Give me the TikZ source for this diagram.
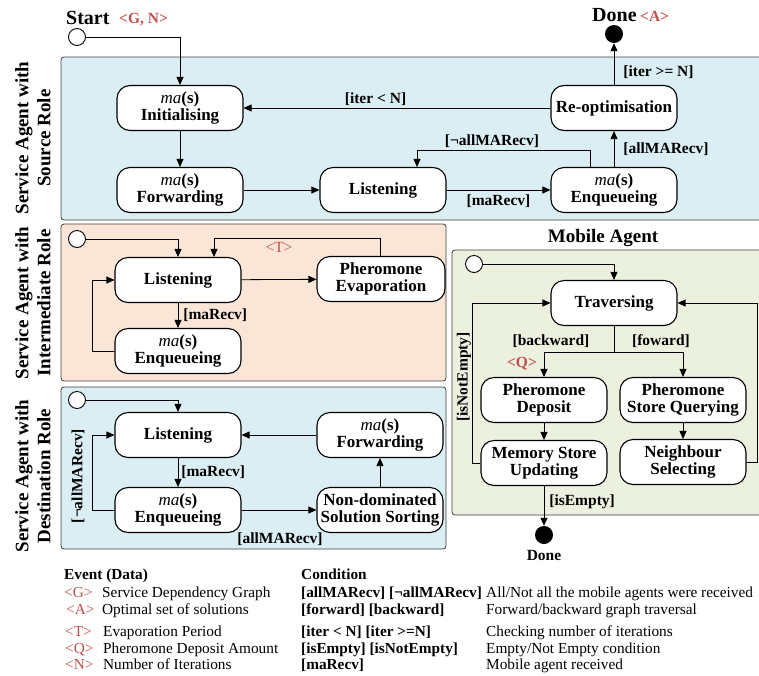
\documentclass[tikz,border=0pt]{standalone}
\usepackage{fontspec}
\setmainfont{Liberation Serif}
\usetikzlibrary{arrows.meta,calc}
\definecolor{evred}{HTML}{C0504D}
\definecolor{bluebg}{HTML}{DAEEF3}
\definecolor{peachbg}{HTML}{FBE5D6}
\definecolor{greenbg}{HTML}{EBF1DE}
\tikzset{
  state/.style={draw, line width=1.1pt, fill=white, rounded corners=13pt, minimum width=126pt,
    minimum height=45pt, align=center, inner sep=1.5pt, font=\fontsize{17}{17.5}\selectfont\bfseries},
  panel/.style={draw=black!75, line width=0.8pt, rounded corners=3pt},
  initst/.style={circle, draw, fill=white, minimum size=17pt, inner sep=0pt, line width=0.9pt},
  finalst/.style={circle, fill=black, minimum size=18pt, inner sep=0pt},
  arr/.style={-{Triangle[length=8pt,width=7pt]}, line width=0.8pt},
  lab/.style={inner sep=1pt, font=\fontsize{15.5}{16}\selectfont\bfseries},
  evtlab/.style={inner sep=1pt, text=evred, font=\fontsize{15.5}{16}\selectfont\bfseries},
  sidelab/.style={rotate=90, align=center, inner sep=0pt, font=\fontsize{19}{22}\selectfont\bfseries},
  leg/.style={anchor=base west, inner sep=0pt, font=\fontsize{15.3}{16}\selectfont},
  legb/.style={leg, font=\fontsize{15.3}{16}\selectfont\bfseries},
}
\newcommand{\mas}{{\mdseries\itshape ma}(s)}
\begin{document}
\begin{tikzpicture}[x=1pt,y=-1pt]
\useasboundingbox (0,0) rectangle (759,675);
% panels
\draw[panel, fill=bluebg] (61,57) rectangle (775,220);
\draw[panel, fill=peachbg] (61,224) rectangle (446,381);
\draw[panel, fill=bluebg] (61,387) rectangle (446,549);
\draw[panel, fill=greenbg] (452,250) rectangle (775,515);
% side labels
\node[sidelab] (s1) at (33,138) {Service Agent with\\Source Role};
\node[sidelab] (s2) at (33,303) {Service Agent with\\Intermediate Role};
\node[sidelab] (s3) at (33,476) {Service Agent with\\Destination Role};
% ---------- source role
\node[initst] (init1) at (77,37) {};
\node[anchor=base west, inner sep=0pt, font=\fontsize{20}{22}\selectfont\bfseries] (start) at (66,24) {Start};
\node[anchor=base west, inner sep=0pt, text=evred, font=\fontsize{15.5}{16}\selectfont\bfseries] (gn) at (119,23) {<G, N>};
\node[finalst] (done1) at (614,34) {};
\node[anchor=base west, inner sep=0pt, font=\fontsize{20}{22}\selectfont\bfseries] (donet) at (592,21) {Done};
\node[anchor=base west, inner sep=0pt, text=evred, font=\fontsize{15.5}{16}\selectfont\bfseries] (at) at (640,21) {<A>};
\node[state] (initl) at (180,108) {\mas\\Initialising};
\node[state] (fwd1) at (180,190) {\mas\\Forwarding};
\node[state] (lis1) at (383,190) {Listening};
\node[state] (enq1) at (614,190) {\mas\\Enqueueing};
\node[state] (reopt) at (614,108) {Re-optimisation};
\draw[arr] (init1) -| (initl);
\draw[arr] (initl) -- (fwd1);
\draw[arr] (fwd1) -- (lis1);
\draw[arr] (lis1) -- node[lab, below=3pt] {[maRecv]} (enq1);
\draw[arr] ([xshift=-24pt]enq1.north) -- ++(0,-17) -| ([xshift=34pt]lis1.north);
\node[lab] (nall1) at (492,141) {[¬allMARecv]};
\draw[arr] (enq1) -- node[lab, right=8pt] {[allMARecv]} (reopt);
\draw[arr] (reopt) -- node[lab, right=8pt, pos=0.3] {[iter >= N]} (done1);
\draw[arr] (reopt) -- node[lab, above=1pt, pos=0.57] {[iter < N]} (initl);
% ---------- intermediate role
\node[initst] (init2) at (77,239) {};
\node[state] (lis2) at (178,280) {Listening};
\node[state] (enq2) at (178,351) {\mas\\Enqueueing};
\node[state, minimum width=128pt] (evap) at (381,279) {Pheromone\\Evaporation};
\draw[arr] (init2) -| (lis2);
\draw[arr] (lis2) -- (evap);
\draw[arr] ([xshift=-1pt]evap.north) -- ++(0,-18) -| ([xshift=36pt]lis2.north);
\node[evtlab, font=\fontsize{15.5}{16}\selectfont] (tlab) at (279,247) {<T>};
\draw[arr] (lis2) -- node[lab, right=4pt] {[maRecv]} (enq2);
\draw[arr] (enq2.west) -- ++(-22,0) |- (lis2.west);
% ---------- destination role
\node[initst] (init3) at (77,400) {};
\node[state] (lis3) at (178,435) {Listening};
\node[state] (enq3) at (178,510) {\mas\\Enqueueing};
\node[state] (fwd3) at (380,435) {\mas\\Forwarding};
\node[state] (nds) at (380,510) {Non-dominated\\Solution Sorting};
\draw[arr] (init3) -| (lis3);
\draw[arr] (fwd3) -- (lis3);
\draw[arr] (lis3) -- node[lab, right=2pt] {[maRecv]} (enq3);
\draw[arr] (enq3) -- (nds);
\node[lab] (allm3) at (280,539) {[allMARecv]};
\draw[arr] (nds) -- (fwd3);
\draw[arr] (enq3.west) -- ++(-22,0) |- (lis3.west);
\node[lab, rotate=90] (nall3) at (78,476) {[¬allMARecv]};
% ---------- mobile agent
\node[font=\fontsize{19}{21}\selectfont\bfseries] (matitle) at (603,238) {Mobile Agent};
\node[initst] (init4) at (474,264) {};
\node[state] (trav) at (614,303) {Traversing};
\node[state] (pd) at (544,400) {Pheromone\\Deposit};
\node[state] (psq) at (683,400) {Pheromone\\Store Querying};
\node[state] (msu) at (544,463) {Memory Store\\Updating};
\node[state] (ns) at (683,462) {Neighbour\\Selecting};
\node[finalst] (done2) at (544,535) {};
\node[anchor=base, inner sep=0pt, font=\fontsize{15.5}{16}\selectfont\bfseries] (done2t) at (544,560) {Done};
\draw[arr] (init4) -| (trav);
\draw[line width=0.8pt] (trav.south) -- ++(0,26) coordinate (split);
\draw[arr] (split) -| (pd);
\draw[arr] (split) -| (psq);
\node[lab] (bw) at (551,341) {[backward]};
\node[lab] (fw) at (661,341) {[foward]};
\node[evtlab] (qlab) at (522,364) {<Q>};
\draw[arr] (pd) -- (msu);
\draw[arr] (psq) -- (ns);
\draw[arr] (msu.west) -- ++(-8,0) |- (trav.west);
\node[lab, rotate=90] (nempty) at (464,377) {[isNotEmpty]};
\draw[arr] (ns.east) -- ++(11,0) |- (trav.east);
\draw[arr] (msu) -- node[lab, right=4pt, pos=0.4] {[isEmpty]} (done2);
% ---------- legend
\node[legb] (lh1) at (64,579) {Event (Data)};
\node[legb] (lh2) at (301,579) {Condition};
\node[leg, text=evred] (lg1) at (64,597) {<G>};
\node[leg] (ld1) at (102,597) {Service Dependency Graph};
\node[leg, text=evred] (lg2) at (66,614) {<A>};
\node[leg] (ld2) at (102,614) {Optimal set of solutions};
\node[leg, text=evred] (lg3) at (65,636) {<T>};
\node[leg] (ld3) at (103,636) {Evaporation Period};
\node[leg, text=evred] (lg4) at (65,653) {<Q>};
\node[leg] (ld4) at (103,653) {Pheromone Deposit Amount};
\node[leg, text=evred] (lg5) at (65,669) {<N>};
\node[leg] (ld5) at (103,669) {Number of Iterations};
\node[legb] (lc1) at (301,597) {[allMARecv] [¬allMARecv]};
\node[leg] (le1) at (486,597) {All/Not all the mobile agents were received};
\node[legb] (lc2) at (301,614) {[forward] [backward]};
\node[leg] (le2) at (486,614) {Forward/backward graph traversal};
\node[legb] (lc3) at (301,636) {[iter < N] [iter >=N]};
\node[leg] (le3) at (486,636) {Checking number of iterations};
\node[legb] (lc4) at (301,653) {[isEmpty] [isNotEmpty]};
\node[leg] (le4) at (486,653) {Empty/Not Empty condition};
\node[legb] (lc5) at (301,669) {[maRecv]};
\node[leg] (le5) at (486,669) {Mobile agent received};
\end{tikzpicture}
\end{document}
